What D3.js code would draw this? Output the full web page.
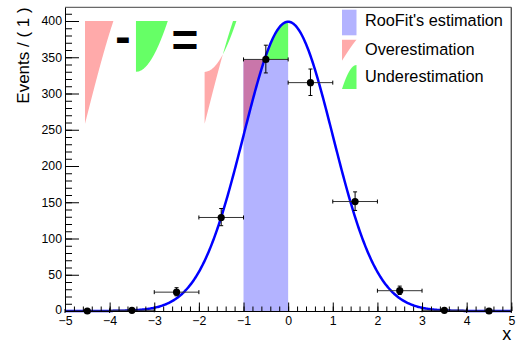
<!DOCTYPE html>
<html>
<head>
<meta charset="utf-8">
<script src="https://cdn.jsdelivr.net/npm/d3@7"></script>
<style>
  body { margin: 0; background: #fff; }
  svg { display: block; }
  text { font-family: "Liberation Sans", Arial, Helvetica, sans-serif; }
</style>
</head>
<body>
<svg id="chart" width="516" height="342"></svg>
<script>
// ---- data -------------------------------------------------------------
const binCenters = [-4.5, -3.5, -2.5, -1.5, -0.5, 0.5, 1.5, 2.5, 3.5, 4.5];
const binHalfWidths = [0.5, 0.5, 0.5, 0.5, 0.5, 0.5, 0.5, 0.5, 0.5, 0.5];
const counts = [0, 1, 26, 129, 347, 315, 151, 28, 1, 0];
const errLow = [0, 0.83, 5.07, 11.34, 18.63, 17.75, 12.28, 5.26, 0.83, 0];
const errHigh = [1.15, 2.3, 6.14, 12.38, 19.64, 18.76, 13.31, 6.33, 2.3, 1.15];

// Gaussian model drawn by the fit: norm * N(mean, sigma) per unit bin
const modelNorm = 1000;
const modelMean = 0;
const modelSigma = 1;

// Bin used for the estimate and the estimate itself
const estimateBin = [-1, 0];
const estimateValue = 347;

const xTicks = [-5, -4, -3, -2, -1, 0, 1, 2, 3, 4, 5];
const yTicks = [0, 50, 100, 150, 200, 250, 300, 350, 400];
const legendLabels = ["RooFit's estimation", "Overestimation", "Underestimation"];
const yTitle = "Events / ( 1 )";
const xTitle = "x";

// ---- layout -----------------------------------------------------------
const frame = { left: 65, right: 511.3, top: 7.3, bottom: 311 };
const yMax = 418.9;
const colBlue = "#b3b3ff", colRed = "#ffaaaa", colGreen = "#66ff66", colMix = "#c976aa";
const font = "\"Liberation Sans\", Arial, Helvetica, sans-serif";

const svg = d3.select("#chart");
const x = d3.scaleLinear().domain([-5, 5]).range([frame.left, frame.right]);
const y = d3.scaleLinear().domain([0, yMax]).range([frame.bottom, frame.top]);

const amp = modelNorm / (modelSigma * Math.sqrt(2 * Math.PI));
const f = v => amp * Math.exp(-0.5 * ((v - modelMean) / modelSigma) ** 2);
// left branch of the inverse of f
const fInvLeft = h => modelMean - modelSigma * Math.sqrt(Math.max(0, -2 * Math.log(h / amp)));

const B = estimateValue;
const xCross = fInvLeft(B);
const lowEdge = estimateBin[0], highEdge = estimateBin[1];
const fLow = f(lowEdge);
const N = 120;

// ---- estimate bar and over / under regions ---------------------------
svg.append("rect")
  .attr("x", x(lowEdge)).attr("y", y(B))
  .attr("width", x(highEdge) - x(lowEdge)).attr("height", y(0) - y(B))
  .attr("fill", colBlue);

const overPts = [[lowEdge, B], [xCross, B]];
d3.range(N + 1).forEach(i => { const t = xCross + (lowEdge - xCross) * i / N; overPts.push([t, f(t)]); });
const underPts = [[xCross, B], [highEdge, B], [highEdge, f(highEdge)]];
d3.range(N + 1).forEach(i => { const t = highEdge + (xCross - highEdge) * i / N; underPts.push([t, f(t)]); });

const dataLine = d3.line().x(d => x(d[0])).y(d => y(d[1]));
svg.append("path").attr("d", dataLine(overPts) + "Z").attr("fill", colMix);
svg.append("path").attr("d", dataLine(underPts) + "Z").attr("fill", colGreen);

// ---- illustration: over - under = net -------------------------------
const illusScale = 1.35;
const illusTop = 400;
const illusLeft = [-4.552, -3.41, -1.872];
const pxW = w => illusScale * (x(w) - x(0));
const pxD = d => illusScale * (y(0) - y(d));
const dOverMax = B - fLow, dUnderMax = amp - B;
const wOver = d => (d <= dOverMax ? fInvLeft(B - d) - lowEdge : 0);
const wUnder = d => (d <= dUnderMax ? highEdge - fInvLeft(B + d) : 0);

function illus(leftData, wf, dMax, fill) {
  const x0 = x(leftData), y0 = y(illusTop);
  const pts = [[x0, y0]];
  d3.range(N + 1).forEach(i => { const d = dMax * i / N; pts.push([x0 + pxW(wf(d)), y0 + pxD(d)]); });
  pts.push([x0, y0 + pxD(dMax)]);
  svg.append("path").attr("d", d3.line()(pts) + "Z").attr("fill", fill);
}
illus(illusLeft[0], wOver, dOverMax, colRed);
illus(illusLeft[1], wUnder, dUnderMax, colGreen);

// net shape: red where over is wider, green where under is wider
{
  const x0 = x(illusLeft[2]), y0 = y(illusTop);
  const dMax = Math.max(dOverMax, dUnderMax);
  const ds = d3.range(2 * N + 1).map(i => dMax * i / (2 * N));
  const hArea = d3.area().y(d => y0 + pxD(d));
  svg.append("path")
    .attr("d", hArea.x0(d => x0 + pxW(wUnder(d))).x1(d => x0 + pxW(wOver(d)))(ds.filter(d => wOver(d) >= wUnder(d))))
    .attr("fill", colRed);
  svg.append("path")
    .attr("d", hArea.x0(d => x0 + pxW(wOver(d))).x1(d => x0 + pxW(wUnder(d)))(ds.filter(d => wUnder(d) >= wOver(d) && d <= dUnderMax)))
    .attr("fill", colGreen);
}

svg.append("text").attr("x", 123).attr("y", 52).attr("text-anchor", "middle")
  .style("font", "bold 46px " + font).text("-");
svg.append("text").attr("x", 185).attr("y", 56).attr("text-anchor", "middle")
  .style("font", "bold 46px " + font).text("=");

// ---- model curve ------------------------------------------------------
const curvePts = d3.range(501).map(i => { const t = -5 + 10 * i / 500; return [t, f(t)]; });
svg.append("path").attr("d", dataLine(curvePts))
  .attr("fill", "none").attr("stroke", "#0000ff").attr("stroke-width", 2.5);

// ---- data points with error bars -------------------------------------
const pts = svg.append("g");
binCenters.forEach((c, i) => {
  const g = pts.append("g").attr("stroke", "#000").attr("stroke-width", 1);
  const yv = y(counts[i]);
  g.append("line").attr("x1", x(c - binHalfWidths[i])).attr("x2", x(c + binHalfWidths[i])).attr("y1", yv).attr("y2", yv).attr("stroke", "#333");
  [c - binHalfWidths[i], c + binHalfWidths[i]].forEach(e =>
    g.append("line").attr("x1", x(e)).attr("x2", x(e)).attr("y1", yv - 2).attr("y2", yv + 2));
  g.append("line").attr("x1", x(c)).attr("x2", x(c)).attr("y1", y(counts[i] - errLow[i])).attr("y2", y(counts[i] + errHigh[i]));
  [counts[i] - errLow[i], counts[i] + errHigh[i]].forEach(e =>
    g.append("line").attr("x1", x(c) - 2).attr("x2", x(c) + 2).attr("y1", y(e)).attr("y2", y(e)));
  pts.append("circle").attr("cx", x(c)).attr("cy", yv).attr("r", 3.6).attr("fill", "#000");
});

// ---- frame and axes ---------------------------------------------------
svg.append("line").attr("x1", frame.left).attr("x2", frame.right).attr("y1", frame.top).attr("y2", frame.top)
  .attr("stroke", "#444").attr("stroke-width", 1);
svg.append("line").attr("x1", frame.right).attr("x2", frame.right).attr("y1", frame.top).attr("y2", frame.bottom)
  .attr("stroke", "#555").attr("stroke-width", 1.4);

const yAxis = svg.append("g").attr("transform", `translate(${frame.left},0)`)
  .call(d3.axisLeft(y).tickValues(yTicks).tickSize(-14).tickSizeOuter(0).tickPadding(3).tickFormat(d3.format("d")));
yAxis.selectAll("text").style("font", "12.3px " + font).attr("fill", "#000");
yAxis.selectAll(".tick").filter(d => d === 0).select("text").attr("dy", "0.2em");
svg.append("g").attr("transform", `translate(${frame.left},0)`)
  .call(d3.axisLeft(y).tickValues(d3.range(0, 411, 10)).tickSize(-7).tickFormat(""))
  .call(g => g.select(".domain").remove());

const xAxis = svg.append("g").attr("transform", `translate(0,${frame.bottom})`)
  .call(d3.axisBottom(x).tickValues(xTicks).tickSize(-8.5).tickSizeOuter(0).tickPadding(5).tickFormat(d3.format("d")));
xAxis.selectAll("text").style("font", "12.3px " + font).attr("fill", "#000");
svg.append("g").attr("transform", `translate(0,${frame.bottom})`)
  .call(d3.axisBottom(x).tickValues(d3.range(-5, 5.001, 0.2)).tickSize(-4.5).tickFormat(""))
  .call(g => g.select(".domain").remove());

svg.append("text").attr("transform", `translate(28.5,${frame.top}) rotate(-90)`)
  .attr("text-anchor", "end").style("font", "17px " + font).text(yTitle);
svg.append("text").attr("x", frame.right).attr("y", 339.5).attr("text-anchor", "end")
  .style("font", "18px " + font).text(xTitle);

// ---- legend -----------------------------------------------------------
const leg = { x: 342, w: 14.5, textX: 365, baselines: [26.3, 54.7, 82], boxes: [[9.7, 35.3], [39.7, 60.7], [65, 89]] };
svg.append("rect").attr("x", leg.x).attr("y", leg.boxes[0][0]).attr("width", leg.w)
  .attr("height", leg.boxes[0][1] - leg.boxes[0][0]).attr("fill", colBlue);
{
  const [t0, t1] = leg.boxes[1], h = t1 - t0, w0 = wOver(0);
  const p = [[leg.x, t0]];
  d3.range(N + 1).forEach(i => { const d = dOverMax * i / N; p.push([leg.x + leg.w * wOver(d) / w0, t0 + h * i / N]); });
  svg.append("path").attr("d", d3.line()(p) + "Z").attr("fill", colRed);
}
{
  const [t0, t1] = leg.boxes[2], h = t1 - t0, w0 = wUnder(0), xr = leg.x + leg.w;
  const p = [[xr, t1]];
  d3.range(N + 1).forEach(i => { const d = dUnderMax * i / N; p.push([xr - leg.w * wUnder(d) / w0, t1 - h * i / N]); });
  svg.append("path").attr("d", d3.line()(p) + "Z").attr("fill", colGreen);
}
legendLabels.forEach((lab, i) =>
  svg.append("text").attr("x", leg.textX).attr("y", leg.baselines[i])
    .style("font", "16.3px " + font).attr("fill", "#000").text(lab));
</script>
</body>
</html>
